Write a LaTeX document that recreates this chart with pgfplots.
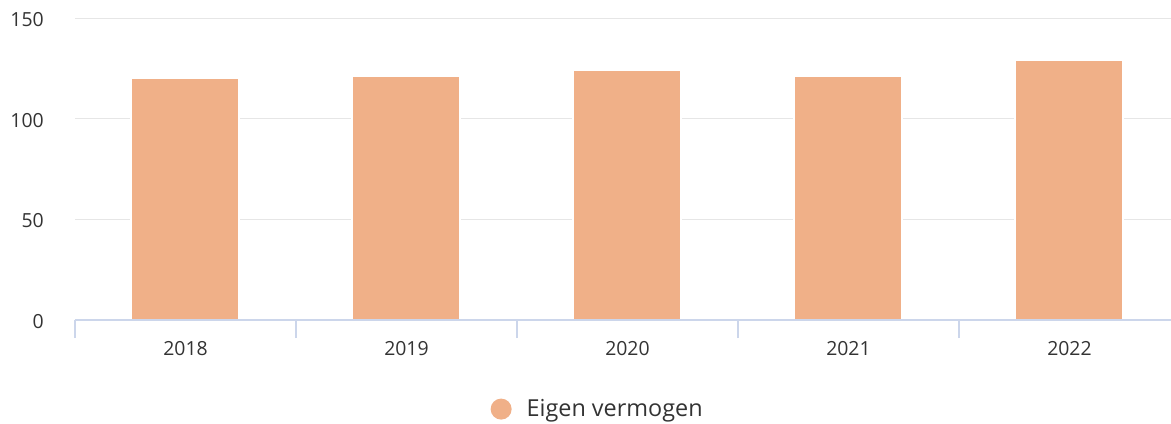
\documentclass[border=0pt]{standalone}
\usepackage{fontspec}
\setmainfont{Open Sans}
\usepackage{pgfplots}
\pgfplotsset{compat=1.18}
\definecolor{barfill}{HTML}{F0B088}
\definecolor{gridgray}{HTML}{E6E6E6}
\definecolor{axisline}{HTML}{CCD6EB}
\definecolor{labelgray}{HTML}{333333}

\begin{document}
\begin{tikzpicture}[x=1bp,y=1bp]
\begin{axis}[
  at={(0,0)}, anchor=south west,
  scale only axis,
  width=1105bp, height=302bp,
  xmin=-0.5, xmax=4.5,
  ymin=0, ymax=150,
  axis line style={draw=none},
  ytick={0,50,100,150},
  ymajorgrids,
  grid style={gridgray, line width=1bp},
  xtick={0,1,2,3,4},
  xticklabels={2018,2019,2020,2021,2022},
  major tick length=0pt,
  xtick pos=lower,
  extra x ticks={-0.5,0.5,1.5,2.5,3.5,4.5},
  extra x tick labels={},
  extra x tick style={major tick length=18bp, tick align=outside,
    major tick style={axisline, line width=1.2bp}},
  /pgf/number format/assume math mode=true,
  tick label style={font=\fontsize{19.5}{23}\selectfont, text=labelgray},
  yticklabel style={anchor=east, inner sep=0pt, xshift=-31bp, yshift=-1.5bp},
  xticklabel style={anchor=base, inner sep=0pt, yshift=-35bp},
  legend style={at={(axis description cs:0.473,-0.295)}, anchor=center,
    draw=none, fill=none, font=\fontsize{23.5}{27}\selectfont, text=labelgray,
    inner sep=0pt, /tikz/every odd column/.append style={column sep=13bp}},
  clip=false,
]
\addplot[ybar, bar width=108bp, fill=barfill, draw=white, line width=2bp,
  legend image code/.code={\fill[barfill, draw=none] (0bp,0bp) circle (10.5bp);}]
  coordinates {(0,120) (1,121) (2,124) (3,121) (4,129)};
\addlegendentry{Eigen vermogen}
\draw[axisline, line width=1.2bp] (axis cs:-0.5,0) -- (axis cs:4.5,0);
\end{axis}
\pgfresetboundingbox
\path (-75,-103) rectangle (1096,320);
\end{tikzpicture}
\end{document}
